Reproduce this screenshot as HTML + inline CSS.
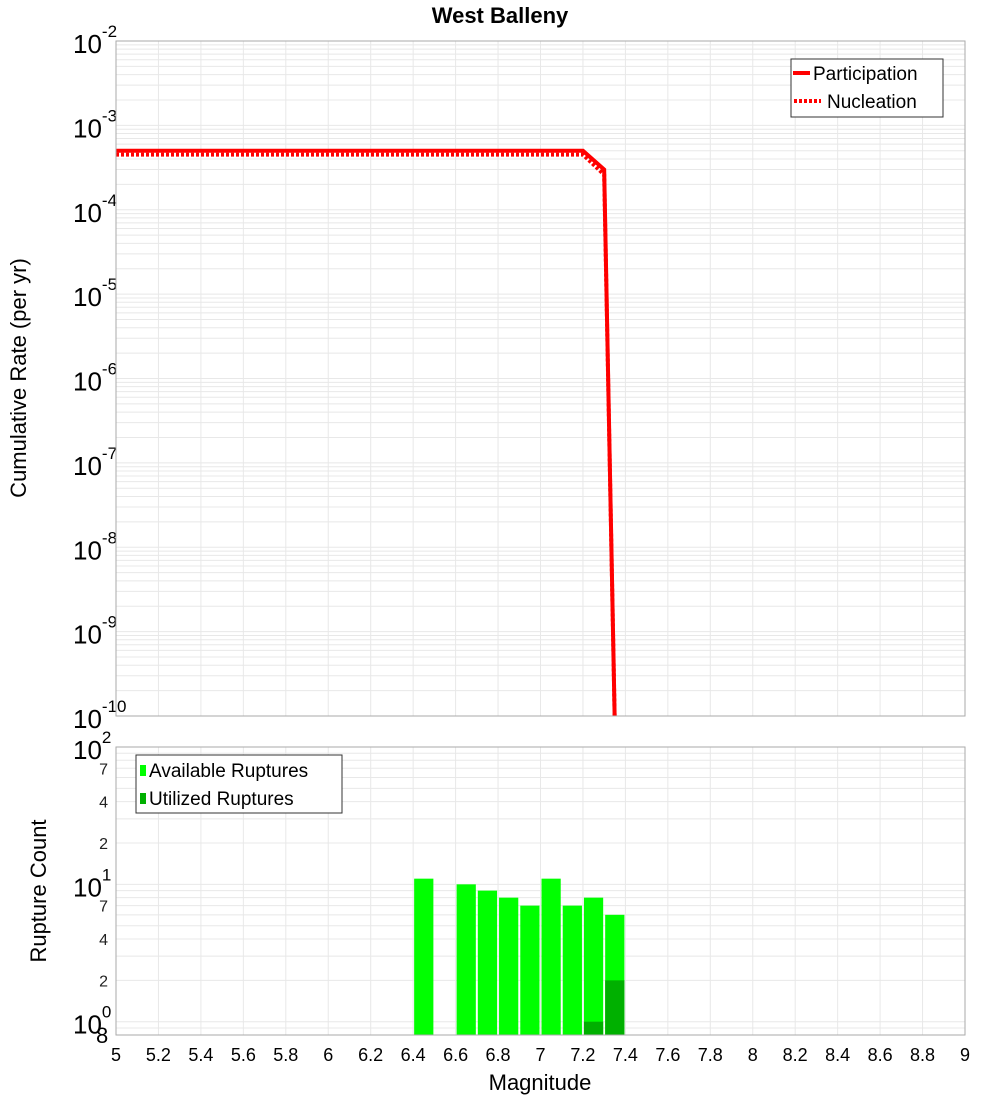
<!DOCTYPE html>
<html><head><meta charset="utf-8"><style>
body{margin:0;background:#fff;}
svg text{font-family:"Liberation Sans","DejaVu Sans",sans-serif;}
</style></head><body>
<svg id="chart" width="1000" height="1100" xmlns="http://www.w3.org/2000/svg">
<text x="500" y="23" text-anchor="middle" font-size="22" font-weight="bold">West Balleny</text>
<g id="topg"></g>
<g id="botg"></g>
</svg>
<script>
const magBins=[5.0,5.1,5.2,5.3,5.4,5.5,5.6,5.7,5.8,5.9,6.0,6.1,6.2,6.3,6.4,6.5,6.6,6.7,6.8,6.9,7.0,7.1,7.2,7.3,7.35];
const participation=[5.0e-4,5.0e-4,5.0e-4,5.0e-4,5.0e-4,5.0e-4,5.0e-4,5.0e-4,5.0e-4,5.0e-4,5.0e-4,5.0e-4,5.0e-4,5.0e-4,5.0e-4,5.0e-4,5.0e-4,5.0e-4,5.0e-4,5.0e-4,5.0e-4,5.0e-4,5.0e-4,3.0e-4,8e-11];
const nucleation=[4.5e-4,4.5e-4,4.5e-4,4.5e-4,4.5e-4,4.5e-4,4.5e-4,4.5e-4,4.5e-4,4.5e-4,4.5e-4,4.5e-4,4.5e-4,4.5e-4,4.5e-4,4.5e-4,4.5e-4,4.5e-4,4.5e-4,4.5e-4,4.5e-4,4.5e-4,4.5e-4,2.6e-4,8e-11];
const barStarts=[6.4,6.6,6.7,6.8,6.9,7.0,7.1,7.2,7.3];
const availableCounts=[11,10,9,8,7,11,7,8,6];
const utilizedStarts=[7.2,7.3];
const utilizedCounts=[1,2];
const xTicks=["5","5.2","5.4","5.6","5.8","6","6.2","6.4","6.6","6.8","7","7.2","7.4","7.6","7.8","8","8.2","8.4","8.6","8.8","9"];
const topExps=[-2,-3,-4,-5,-6,-7,-8,-9,-10];
const botMinor=[7,4,2];

const NS="http://www.w3.org/2000/svg";
function mk(parent,tag,attrs,text){const e=document.createElementNS(NS,tag);for(const k in attrs)e.setAttribute(k,attrs[k]);if(text!==undefined)e.textContent=text;parent.appendChild(e);return e;}
const X0=116,X1=965;
const xs=m=>X0+(m-5)/4*(X1-X0);
const T0=41,T1=716;
const yTop=v=>T0+(-2-Math.log10(v))/8*(T1-T0);
const B0=747,B1=1035,bMin=Math.log10(0.8);
const yBot=v=>B0+(2-Math.log10(v))/(2-bMin)*(B1-B0);

const topG=document.getElementById('topg');
const botG=document.getElementById('botg');
const defs=mk(document.getElementById('chart'),'defs',{});
const cp=mk(defs,'clipPath',{id:'ctop'});mk(cp,'rect',{x:X0,y:T0,width:X1-X0,height:T1-T0});

for(let d=-10;d<-2;d++){for(let k=1;k<10;k++){const v=k*Math.pow(10,d);const y=yTop(v);
 const l=mk(topG,'line',{x1:X0,x2:X1,y1:y,y2:y,stroke:'#e8e8e8','stroke-width':1});
 
 }}
xTicks.forEach(t=>{const x=xs(+t);
 const l=mk(topG,'line',{x1:x,x2:x,y1:T0,y2:T1,stroke:'#e8e8e8'});
 
 
 const l2=mk(botG,'line',{x1:x,x2:x,y1:B0,y2:B1,stroke:'#e8e8e8'});
 
 });
topExps.forEach(e=>{const y=yTop(Math.pow(10,e));
 const t=mk(topG,'text',{x:73,y:y+12,'font-size':26});
 
 
 t.textContent='10';
 mk(t,'tspan',{dy:-16,'font-size':17},String(e));});
function line(vals,dash,name){
 const pts=magBins.map((m,i)=>xs(m)+','+yTop(vals[i])).join(' ');
 const p=mk(topG,'polyline',{points:pts,fill:'none',stroke:'#ff0000','stroke-width':4,'clip-path':'url(#ctop)'});
 if(dash)p.setAttribute('stroke-dasharray','3,2');
 
 }
line(nucleation,true,'nucleation-line');
line(participation,false,'participation-line');
mk(topG,'rect',{x:X0,y:T0,width:X1-X0,height:T1-T0,fill:'none',stroke:'#aaa'});
const lg=mk(topG,'g',{});
mk(lg,'rect',{x:791,y:59,width:152,height:58,fill:'#fff',stroke:'#333'});
mk(lg,'line',{x1:793,x2:810,y1:73,y2:73,stroke:'#f00','stroke-width':4});
mk(lg,'text',{x:813,y:80,'font-size':19,},'Participation');
mk(lg,'line',{x1:794,x2:821,y1:101,y2:101,stroke:'#f00','stroke-width':4,'stroke-dasharray':'3,2'});
mk(lg,'text',{x:827,y:108,'font-size':19,},'Nucleation');
mk(topG,'text',{x:26,y:378,'font-size':22,'text-anchor':'middle',transform:'rotate(-90 26 378)',},'Cumulative Rate (per yr)');

for(let d=-1;d<2;d++){for(let k=1;k<10;k++){const v=k*Math.pow(10,d);if(v<0.8)continue;const y=yBot(v);
 const l=mk(botG,'line',{x1:X0,x2:X1,y1:y,y2:y,stroke:'#e8e8e8'});
 
 }}
[2,1,0].forEach(e=>{const y=yBot(Math.pow(10,e));
 const t=mk(botG,'text',{x:73,y:y+12,'font-size':26});
 
 
 t.textContent='10';
 mk(t,'tspan',{dy:-16,'font-size':17},String(e));});
[0,1].forEach(d=>botMinor.forEach(k=>{const y=yBot(k*Math.pow(10,d));
 const t=mk(botG,'text',{x:108,y:y+6,'font-size':16,'text-anchor':'end',fill:'#222'},String(k));
 
 }));
mk(botG,'text',{x:96,y:1043,'font-size':22,},'8');
barStarts.forEach((m,i)=>{const y=yBot(availableCounts[i]);
 const r=mk(botG,'rect',{x:xs(m)+1,y:y,width:xs(m+0.1)-xs(m)-2,height:B1-y,fill:'#00ff00'});
 
 });
utilizedStarts.forEach((m,i)=>{const y=yBot(utilizedCounts[i]);
 const r=mk(botG,'rect',{x:xs(m)+1,y:y,width:xs(m+0.1)-xs(m)-2,height:B1-y,fill:'#00b000'});
 
 });
mk(botG,'rect',{x:X0,y:B0,width:X1-X0,height:B1-B0,fill:'none',stroke:'#aaa'});
xTicks.forEach(t=>{const x=xs(+t);
 const e=mk(botG,'text',{x:x,y:1061,'font-size':18,'text-anchor':'middle'},t);
 
 });
mk(botG,'text',{x:540,y:1090,'font-size':22,'text-anchor':'middle',},'Magnitude');
mk(botG,'text',{x:46,y:891,'font-size':22,'text-anchor':'middle',transform:'rotate(-90 46 891)',},'Rupture Count');
const lg2=mk(botG,'g',{});
mk(lg2,'rect',{x:136,y:755,width:206,height:58,fill:'#fff',stroke:'#333'});
mk(lg2,'rect',{x:140,y:765,width:6,height:11,fill:'#00ff00'});
mk(lg2,'text',{x:149,y:777,'font-size':19,},'Available Ruptures');
mk(lg2,'rect',{x:140,y:793,width:6,height:11,fill:'#00b000'});
mk(lg2,'text',{x:149,y:805,'font-size':19,},'Utilized Ruptures');
</script>
</body></html>
